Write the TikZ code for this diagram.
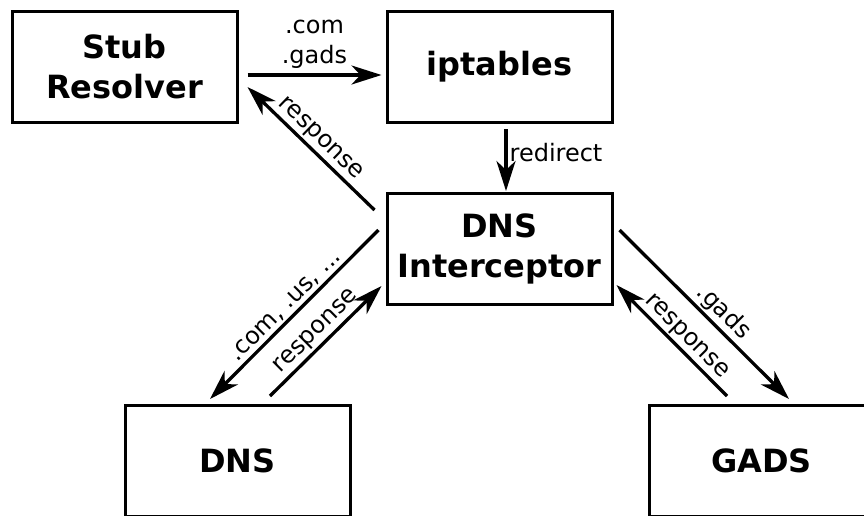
\documentclass[tikz,border=0pt]{standalone}
\usepackage{fontspec}
\setmainfont{DejaVu Sans}
\usetikzlibrary{arrows.meta,calc}
\begin{document}
\begin{tikzpicture}[x=1pt,y=-1pt,
  box/.style={draw, line width=3pt, minimum width=225pt, minimum height=111pt,
    inner sep=0pt, align=center, font=\bfseries\fontsize{32}{40}\selectfont},
  tip/.tip={Stealth[length=30pt,width=19pt,inset=9pt]},
  conn/.style={line width=3.3pt, -tip},
  lbl/.style={font=\fontsize{24}{30}\selectfont, align=center, inner sep=2pt}]
\clip (0,0) rectangle (864,515);
\useasboundingbox (0,0) rectangle (864,515);

% boxes
\node[box] (stub) at (124.5,67) {Stub\\Resolver};
\node[box] (ipt)  at (499.5,67) {iptables};
\node[box] (dnsi) at (499.5,249) {DNS\\Interceptor};
\node[box] (dns)  at (237.5,461) {DNS};
\node[box] (gads) at (761.5,461) {GADS};

% stub resolver -> iptables
\draw[conn] ($(stub.east)+(9,8)$) -- node[lbl, above, midway, inner sep=5pt] {.com\\.gads} ($(ipt.west)+(-4,8)$);
% iptables -> interceptor
\draw[conn] ($(ipt.south)+(6.5,5)$) -- node[lbl, right, pos=0.38] {redirect} ($(dnsi.north)+(6.5,-1)$);
% interceptor -> stub resolver
\draw[conn] ($(dnsi.north west)+(-11,18)$) -- node[lbl, sloped, above, midway] {response} ($(stub.south east)+(9,-37)$);
% interceptor <-> DNS
\draw[conn] ($(dnsi.west)+(-7,-19)$) -- node[lbl, sloped, above, midway] {.com, .us, ...} ($(dns.north)+(-27.5,-5)$);
\draw[conn] ($(dns.north)+(32.5,-8)$) -- node[lbl, sloped, above, midway] {response} ($(dnsi.west)+(-4,37)$);
% interceptor <-> GADS
\draw[conn] ($(dnsi.east)+(6,-19)$) -- node[lbl, sloped, above, pos=0.55] {.gads} ($(gads.north)+(27.5,-5)$);
\draw[conn] ($(gads.north)+(-34.5,-8)$) -- node[lbl, sloped, above, pos=0.45] {response} ($(dnsi.east)+(3,36)$);
\end{tikzpicture}
\end{document}
